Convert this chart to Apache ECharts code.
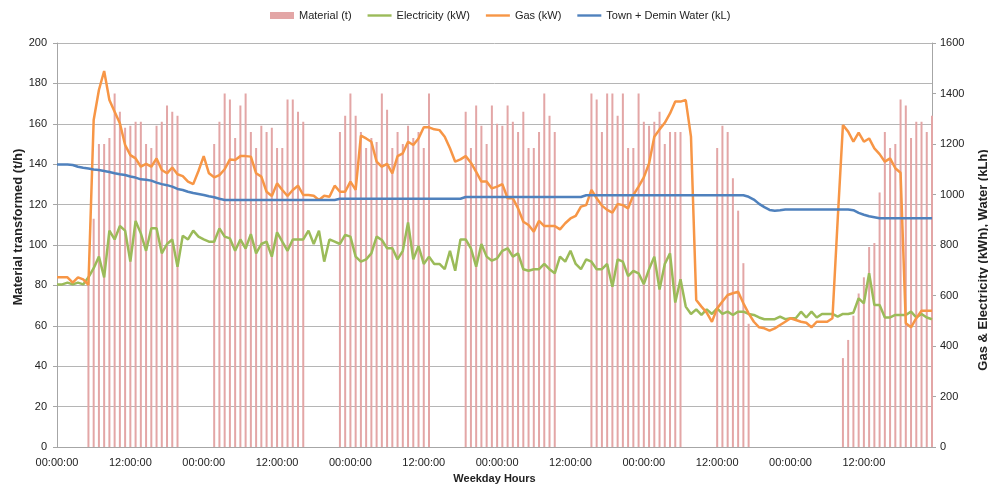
<!DOCTYPE html>
<html><head><meta charset="utf-8">
<script src="https://cdn.jsdelivr.net/npm/echarts@6/dist/echarts.min.js"></script>
<style>html,body{margin:0;padding:0;background:#fff}#c{width:988px;height:485px}</style>
</head><body><div id="c"></div>
<script>
// 168 hourly categories (one week)
const categories = [];
for (let d = 0; d < 7; d++) { for (let h = 0; h < 24; h++) { categories.push('D' + (d + 1) + ' ' + String(h).padStart(2, '0') + ':00:00'); } }

const tickLabels = ['00:00:00','12:00:00','00:00:00','12:00:00','00:00:00','12:00:00','00:00:00','12:00:00','00:00:00','12:00:00','00:00:00','12:00:00'];

const material = [
  null,null,null,null,null,null,
  82,113,150,150,153,175,166,158,159,161,161,150,148,159,161,169,166,164,
  null,null,null,null,null,null,
  150,161,175,172,153,169,175,156,148,159,156,158,148,148,172,172,166,161,
  null,null,null,null,null,null,
  156,164,175,164,156,148,153,151,175,167,148,156,150,159,153,156,148,175,
  null,null,null,null,null,null,
  166,148,169,159,150,169,160,159,169,161,156,166,148,148,156,175,164,156,
  null,null,null,null,null,null,
  175,172,156,175,175,164,175,148,148,175,161,159,161,166,150,156,156,156,
  null,null,null,null,null,null,
  148,159,156,133,117,91,61,
  null,null,null,null,null,null,null,null,null,null,null,null,null,null,null,null,null,
  44,53,65,76,84,99,101,126,156,148,150,172,169,153,161,161,156,164
];

const electricity = [
  644,644,651,644,651,644,672,708,754,672,857,822,875,857,734,895,846,777,866,866,767,
  804,822,714,837,822,857,833,822,813,813,866,833,826,777,822,786,843,767,804,813,754,
  850,813,777,822,822,822,857,804,857,734,822,813,804,840,833,754,734,743,767,833,820,
  787,787,743,777,889,743,796,725,754,725,725,704,777,698,822,822,787,714,804,754,738,
  747,777,787,754,767,704,698,704,704,725,704,688,754,734,777,725,704,743,734,704,704,
  725,635,743,734,677,698,688,645,704,754,624,725,767,572,664,556,527,545,523,545,527,
  549,527,536,523,536,536,527,523,513,506,506,506,516,506,510,510,536,513,536,513,527,
  527,527,516,527,527,532,589,569,688,562,562,513,513,523,523,523,536,513,527,513,506
];

const gas = [
  672,672,672,651,672,664,642,1295,1414,1489,1374,1328,1282,1196,1156,1143,1110,1121,1110,1143,1097,
  1084,1107,1080,1073,1051,1041,1093,1152,1084,1068,1077,1100,1139,1137,1152,1152,1150,1084,1071,1011,994,
  1044,1018,994,1018,1035,998,998,995,978,995,991,1035,1011,1011,1051,1018,1233,1222,1209,1130,1110,
  1121,1084,1152,1163,1209,1196,1222,1266,1266,1258,1255,1229,1183,1130,1139,1152,1126,1090,1051,1051,1024,
  1031,1041,985,985,945,892,879,853,896,875,875,875,862,886,905,915,952,958,1018,985,956,
  939,928,962,958,945,998,1031,1068,1123,1229,1258,1284,1321,1368,1368,1374,1229,582,556,532,496,
  549,576,602,609,615,569,529,496,474,470,461,470,483,496,510,503,496,492,474,496,496,
  496,510,900,1275,1249,1209,1245,1209,1222,1183,1160,1130,1143,1104,1086,490,474,510,540,540,540
];

const water = [
  1119,1119,1119,1117,1110,1106,1103,1099,1097,1093,1089,1084,1080,1077,1071,1067,1060,1058,1055,1047,1041,
  1037,1031,1022,1018,1011,1006,1002,998,993,989,983,
  978,978,978,978,978,978,978,978,978,978,978,978,978,978,978,978,978,978,978,978,978,978,
  983,983,983,983,983,983,983,983,983,983,983,983,983,983,983,983,983,983,983,983,983,983,983,983,
  990,990,990,990,990,990,990,990,990,990,990,990,990,990,990,990,990,990,990,990,990,990,990,
  997,997,997,997,997,997,997,997,997,997,997,997,997,997,997,997,997,997,997,997,997,997,997,997,997,997,997,997,997,997,997,
  991,980,963,950,939,936,938,
  941,941,941,941,941,941,941,941,941,941,941,941,941,
  938,927,920,914,910,
  906,906,906,906,906,906,906,906,906,906,906
];

const FONT = 'Liberation Sans, Arial, sans-serif';
const AXC = '#a6a6a6';
const TXT = '#222';
const LINE_ICON = 'path://M0,0 M24,7 M0,2.3 L24,2.3 L24,4.7 L0,4.7 Z';
const RECT_ICON = 'path://M0,0 L24,0 L24,7 L0,7 Z';

const chart = echarts.init(document.getElementById('c'), null, {renderer: 'canvas'});
chart.setOption({
  animation: false,
  backgroundColor: '#fff',
  textStyle: {fontFamily: FONT},
  legend: {
    top: 5, left: 265, itemWidth: 24, itemHeight: 7, itemGap: 16,
    textStyle: {fontSize: 11, color: TXT, fontFamily: FONT},
    data: [
      {name: 'Material (t)', icon: RECT_ICON},
      {name: 'Electricity (kW)', icon: LINE_ICON},
      {name: 'Gas (kW)', icon: LINE_ICON},
      {name: 'Town + Demin Water (kL)', icon: LINE_ICON}
    ]
  },
  grid: {left: 57, right: 56, top: 43, bottom: 38, containLabel: false, outerBoundsMode: 'none'},
  xAxis: {
    type: 'category', data: categories, boundaryGap: false,
    name: 'Weekday Hours', nameLocation: 'middle', nameGap: 26,
    nameTextStyle: {fontWeight: 'bold', fontSize: 11, color: TXT, fontFamily: FONT},
    axisLine: {lineStyle: {color: AXC}},
    axisTick: {show: false},
    axisLabel: {interval: 13, formatter: (v, i) => tickLabels[i / 14], fontSize: 11, color: TXT, margin: 10, fontFamily: FONT},
    splitLine: {show: false}
  },
  yAxis: [
    {
      type: 'value', min: 0, max: 200, interval: 20,
      name: 'Material transformed (t/h)', nameLocation: 'middle', nameGap: 32, nameRotate: 90, nameMoveOverlap: false,
      nameTextStyle: {fontWeight: 'bold', fontSize: 13, color: TXT, fontFamily: FONT, padding: [0, 0, 0, 36]},
      axisLine: {show: true, lineStyle: {color: AXC}},
      axisTick: {show: true, length: 4, lineStyle: {color: AXC}},
      axisLabel: {fontSize: 11, color: TXT, margin: 10, fontFamily: FONT},
      splitLine: {show: true, lineStyle: {color: '#b5b5b5', width: 1}}
    },
    {
      type: 'value', min: 0, max: 1600, interval: 200, position: 'right',
      name: 'Gas & Electricity (kWh), Water (kLh)', nameLocation: 'middle', nameGap: 45, nameRotate: 90, nameMoveOverlap: false,
      nameTextStyle: {fontWeight: 'bold', fontSize: 13, color: TXT, fontFamily: FONT, padding: [0, 30, 0, 0]},
      axisLine: {show: true, lineStyle: {color: AXC}},
      axisTick: {show: true, length: 4, lineStyle: {color: AXC}},
      axisLabel: {fontSize: 11, color: TXT, margin: 8, fontFamily: FONT, formatter: v => String(v)},
      splitLine: {show: false}
    }
  ],
  series: [
    {name: 'Material (t)', type: 'bar', yAxisIndex: 0, data: material, barWidth: 2, itemStyle: {color: '#e3a6a6'}, z: 1},
    {name: 'Electricity (kW)', type: 'line', yAxisIndex: 1, data: electricity, symbol: 'none', showSymbol: false,
      lineStyle: {width: 2.5, color: '#9bbb59'}, itemStyle: {color: '#9bbb59'}, z: 2},
    {name: 'Gas (kW)', type: 'line', yAxisIndex: 1, data: gas, symbol: 'none', showSymbol: false,
      lineStyle: {width: 2.5, color: '#f79646'}, itemStyle: {color: '#f79646'}, z: 3},
    {name: 'Town + Demin Water (kL)', type: 'line', yAxisIndex: 1, data: water, symbol: 'none', showSymbol: false,
      lineStyle: {width: 2.5, color: '#4f81bd'}, itemStyle: {color: '#4f81bd'}, z: 4}
  ]
});
</script>
</body></html>
